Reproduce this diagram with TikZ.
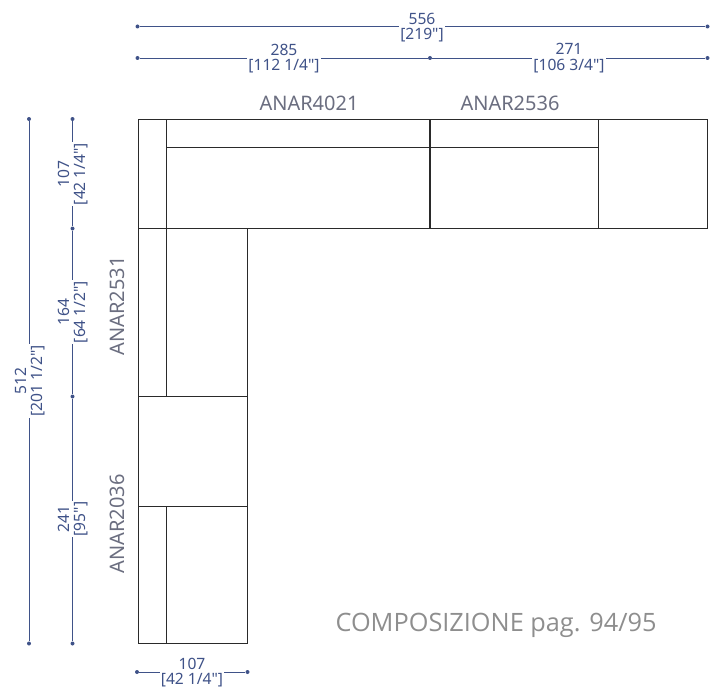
\documentclass[tikz,border=0pt]{standalone}
\usepackage{fontspec}
\setmainfont{Open Sans}
\newfontfamily\dimfont{Noto Sans}
\definecolor{dimblue}{HTML}{3F5288}
\definecolor{lab}{HTML}{6B6E80}
\definecolor{comp}{HTML}{8E8E8E}
\definecolor{ink}{HTML}{2A2A2A}
\tikzset{
  x=1pt,y=-1pt,
  dimline/.style={draw=dimblue,line width=0.9pt},
  dimtext/.style={text=dimblue,fill=white,font=\dimfont\fontsize{15.6}{15.5}\selectfont,align=center,inner sep=1pt,outer sep=0pt},
  modlabel/.style={text=lab,font=\dimfont\fontsize{20}{22}\selectfont,inner sep=0pt},
  dot/.style={circle,fill=dimblue,inner sep=0pt,minimum size=4pt},
  plan/.style={draw=ink,line width=0.85pt},
  seam/.style={draw=ink,line width=1.3pt}
}
\begin{document}
\begin{tikzpicture}
\useasboundingbox (0,0) rectangle (710,693);
% plan
\draw[plan] (138,119) rectangle (707.5,228.5);
\draw[plan] (138,228.5) rectangle (247.5,643);
\draw[plan] (166.5,119) -- (166.5,396.5);
\draw[plan] (166.5,147.5) -- (598,147.5);
\draw[seam] (430,119) -- (430,228.5);
\draw[plan] (598,119) -- (598,228.5);
\draw[seam] (138,396.5) -- (247.5,396.5);
\draw[plan] (138,506) -- (247.5,506);
\draw[plan] (166.5,506) -- (166.5,643);
% horizontal dimensions
\node[dot] (t1) at (137.5,26.5) {};
\node[dot] (t2) at (707.5,26.5) {};
\node[dot] (m1) at (137.5,58) {};
\node[dot] (m2) at (430,58) {};
\node[dot] (m3) at (707.5,58) {};
\node[dot] (b1) at (137,672) {};
\node[dot] (b2) at (247.5,672) {};
\draw[dimline] (t1) -- (t2);
\draw[dimline] (m1) -- (m2) -- (m3);
\draw[dimline] (b1) -- (b2);
\node[dimtext] (d556) at (422,27.5) {556\\{}[219"]};
\node[dimtext] (d285) at (284,58.5) {285\\{}[112 1/4"]};
\node[dimtext] (d271) at (569,58) {271\\{}[106 3/4"]};
\node[dimtext] (d107b) at (192,672.5) {107\\{}[42 1/4"]};
% vertical dimensions
\node[dot] (l1) at (29,119) {};
\node[dot] (l2) at (29,643.5) {};
\node[dot] (r1) at (72.5,119) {};
\node[dot] (r2) at (72.5,228.5) {};
\node[dot] (r3) at (72.5,396.5) {};
\node[dot] (r4) at (72.5,643.5) {};
\draw[dimline] (l1) -- (l2);
\draw[dimline] (r1) -- (r2) -- (r3) -- (r4);
\node[dimtext,rotate=90] (d512) at (30,381) {512\\{}[201 1/2"]};
\node[dimtext,rotate=90] (d107) at (73,174) {107\\{}[42 1/4"]};
\node[dimtext,rotate=90] (d164) at (73,312) {164\\{}[64 1/2"]};
\node[dimtext,rotate=90] (d241) at (73,519) {241\\{}[95"]};
% labels
\node[modlabel] (a4021) at (309,103.5) {ANAR4021};
\node[modlabel] (a2536) at (510,103.5) {ANAR2536};
\node[modlabel,rotate=90] (a2531) at (117,306) {ANAR2531};
\node[modlabel,rotate=90] (a2036) at (117,524) {ANAR2036};
\node[text=comp,font=\fontsize{25.3}{28}\selectfont,inner sep=0pt] (compo) at (496,625) {COMPOSIZIONE pag. 94/95};
\end{tikzpicture}
\end{document}
